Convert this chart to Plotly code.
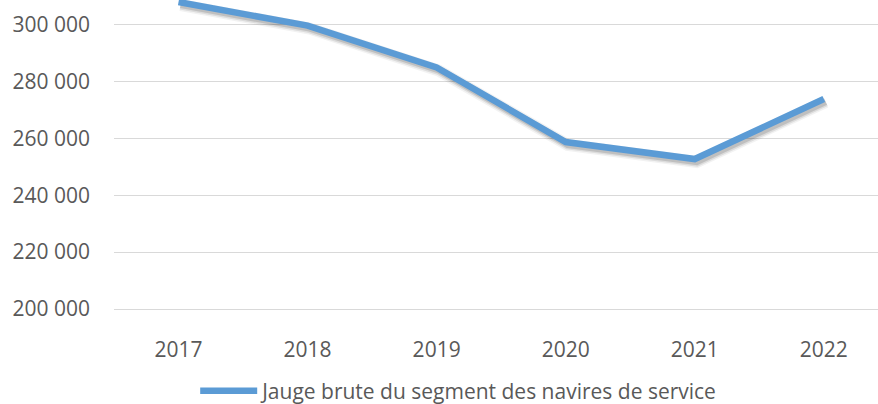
import plotly.graph_objects as go

years = ["2017", "2018", "2019", "2020", "2021", "2022"]
tonnage = [307900, 299600, 284900, 258700, 252700, 273800]
y_ticks = [200000, 220000, 240000, 260000, 280000, 300000]
y_tick_labels = ["200 000", "220 000", "240 000", "260 000", "280 000", "300 000"]
series_name = "Jauge brute du segment des navires de service"

W, H = 878, 404
ML, MR, MT, MB = 114, 0, 0, 95
plot_h = H - MT - MB
px_per_unit = 56.9 / 20000
y_min = 200000
y_max = y_min + plot_h / px_per_unit
x_rng = [-0.5, 5.42]

# shadow offsets (pixels)
dx_px, dy_px = 2, 3
dy = dy_px / px_per_unit
dxc = dx_px / 129.0

font_family = "Open Sans, Noto Sans, DejaVu Sans, sans-serif"
txt_color = "#595959"

fig = go.Figure()
# invisible trace to set up base (grid) axes
fig.add_trace(go.Scatter(x=years, y=tonnage, mode="lines", line=dict(width=0),
                         hoverinfo="skip", showlegend=False, opacity=0))
for w, a in [(12, 0.05), (9, 0.09), (6, 0.13)]:
    fig.add_trace(go.Scatter(
        x=years, y=tonnage, mode="lines", xaxis="x2", yaxis="y2",
        line=dict(color=f"rgba(0,0,0,{a})", width=w),
        hoverinfo="skip", showlegend=False))
fig.add_trace(go.Scatter(
    x=years, y=tonnage, mode="lines", name=series_name, xaxis="x3", yaxis="y3",
    line=dict(color="#5B9BD5", width=6.5), showlegend=True))

cat_common = dict(type="category", categoryorder="array", categoryarray=years,
                  automargin=False)

fig.update_layout(
    width=W, height=H,
    margin=dict(l=ML, r=MR, t=MT, b=MB, pad=0, autoexpand=False),
    paper_bgcolor="white", plot_bgcolor="white",
    font=dict(family=font_family, size=20, color=txt_color),
    xaxis=dict(**cat_common, range=x_rng, showgrid=False, showline=True,
               linecolor="#D9D9D9", linewidth=1.2, ticks="",
               ticklabelstandoff=22, tickfont=dict(size=21, color=txt_color),
               zeroline=False),
    yaxis=dict(range=[y_min, y_max], tickvals=y_ticks, ticktext=y_tick_labels,
               showgrid=True, gridcolor="#D9D9D9", gridwidth=1.2, automargin=False,
               showline=False, zeroline=False, ticks="", ticklabelstandoff=23,
               tickfont=dict(size=21, color=txt_color)),
    xaxis2=dict(**cat_common, range=[x_rng[0] - dxc, x_rng[1] - dxc],
                overlaying="x", visible=False),
    yaxis2=dict(range=[y_min + dy, y_max + dy], overlaying="y", visible=False,
                automargin=False),
    xaxis3=dict(**cat_common, range=x_rng, overlaying="x", visible=False),
    yaxis3=dict(range=[y_min, y_max], overlaying="y", visible=False,
                automargin=False),
    legend=dict(orientation="h", xref="container", yref="container",
                x=0.523, xanchor="center", y=0.032, yanchor="middle",
                itemwidth=57, font=dict(size=21, color=txt_color),
                bgcolor="rgba(0,0,0,0)"),
    showlegend=True,
)

fig.write_html(
    "out.html",
    config={"displayModeBar": False},
    post_script="document.body.style.margin='0';document.body.style.overflow='hidden';",
)
